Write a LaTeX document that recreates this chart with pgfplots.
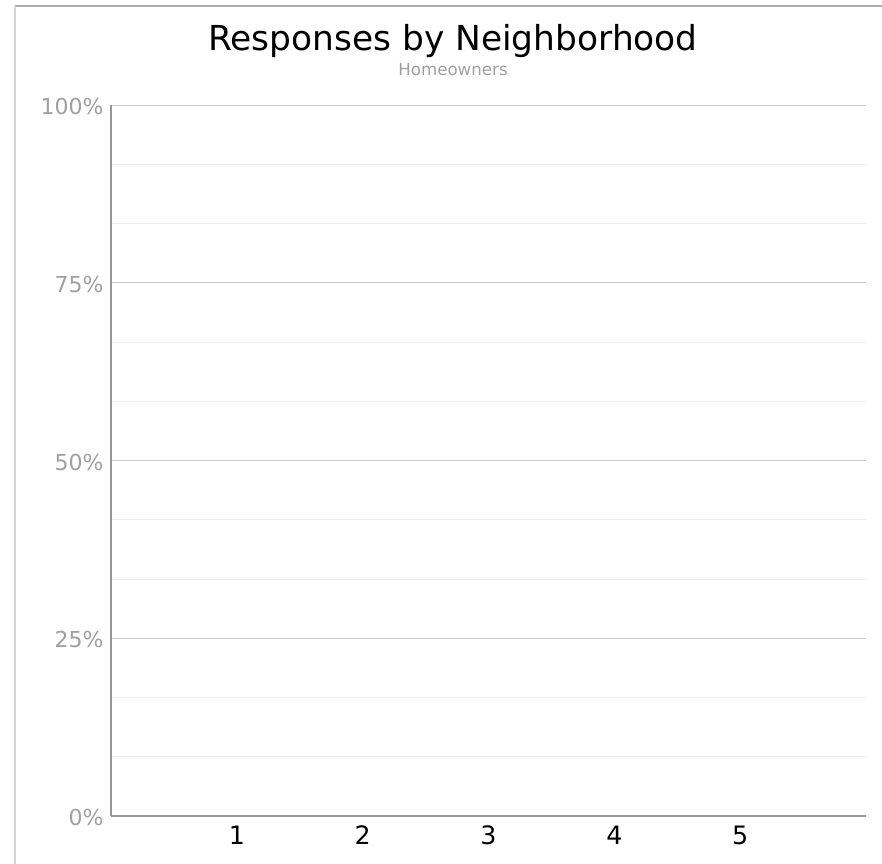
\documentclass[border=0pt]{standalone}
\usepackage{pgfplots}
\pgfplotsset{compat=1.18}
\usepackage{fontspec}
\setmainfont{DejaVu Sans}
\definecolor{majgrid}{RGB}{200,200,200}
\definecolor{mingrid}{RGB}{236,236,236}
\definecolor{spine}{RGB}{150,150,150}
\definecolor{ylab}{RGB}{160,160,160}
\begin{document}
\begin{tikzpicture}
\useasboundingbox (0pt,0pt) rectangle (661.5pt,648pt);
\fill[white] (0pt,0pt) rectangle (661.5pt,648pt);
\draw[color=spine!80,line width=1.2pt] (11.25pt,643.5pt) -- (661.5pt,643.5pt);
\draw[color=spine!40,line width=0.8pt] (11.25pt,0pt) -- (11.25pt,643.5pt);
\begin{axis}[
  at={(83.25pt,36pt)}, anchor=south west,
  scale only axis, width=566.25pt, height=533.25pt,
  xmin=0, xmax=6, ymin=0, ymax=100,
  axis x line*=bottom, axis y line*=left,
  axis line style={color=spine, line width=0.8pt, -},
  xtick={1,2,3,4,5},
  ytick={0,25,50,75,100},
  yticklabel={\pgfmathprintnumber{\tick}\%},
  minor ytick={8.333,16.667,33.333,41.667,58.333,66.667,83.333,91.667},
  ymajorgrids, yminorgrids,
  major grid style={color=majgrid, line width=0.7pt},
  minor grid style={color=mingrid, line width=0.7pt},
  major tick length=0pt, minor tick length=0pt,
  /pgf/number format/assume math mode=true,
  yticklabel style={font=\fontsize{16.5}{16.5}\selectfont, color=ylab, xshift=-2pt, yshift=-1.2pt},
  xticklabel style={font=\fontsize{19}{19}\selectfont, color=black, yshift=-4pt},
  ybar, bar width=20pt,
]
\addplot[draw=none, fill=none] coordinates {(1,0) (2,0) (3,0) (4,0) (5,0)};
\end{axis}
\node[font=\fontsize{25.8}{25.8}\selectfont] at (339.75pt,617pt) {Responses by Neighborhood};
\node[font=\fontsize{12.5}{12.5}\selectfont, color=ylab] at (339.75pt,595.5pt) {Homeowners};
\end{tikzpicture}
\end{document}
